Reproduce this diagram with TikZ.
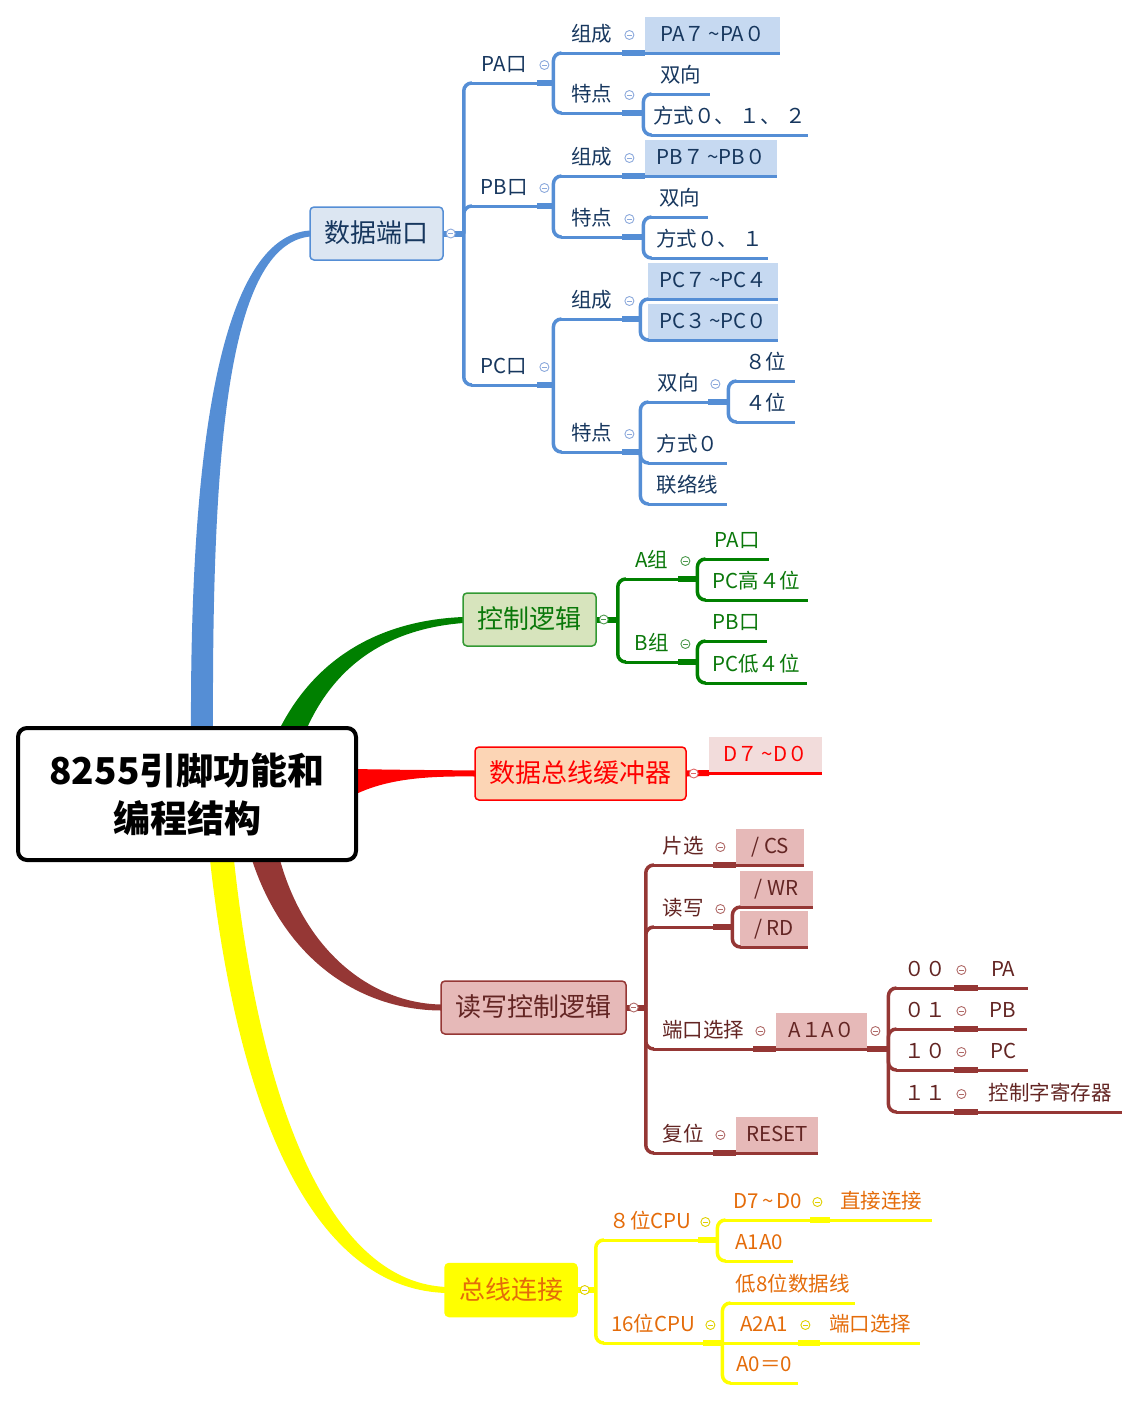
\documentclass[tikz,border=0pt]{standalone}
\usepackage{fontspec}
\setmainfont{Noto Sans CJK SC}
\usetikzlibrary{calc}

% branch colours
\definecolor{bcol}{HTML}{558ED5}
\definecolor{btext}{HTML}{17375E}
\definecolor{bfill}{HTML}{DCE6F2}
\definecolor{bhl}{HTML}{C6D9F1}
\definecolor{bmark}{HTML}{8DAADC}
\definecolor{gcol}{HTML}{008000}
\definecolor{gtext}{HTML}{0A780A}
\definecolor{gfill}{HTML}{D7E4BD}
\definecolor{gmark}{HTML}{4E9A4E}
\definecolor{rcol}{HTML}{FF0000}
\definecolor{rfill}{HTML}{FCD5B5}
\definecolor{rhl}{HTML}{F2DCDB}
\definecolor{rmark}{HTML}{E06666}
\definecolor{wcol}{HTML}{953735}
\definecolor{wtext}{HTML}{632523}
\definecolor{wfill}{HTML}{E6B9B8}
\definecolor{wmark}{HTML}{B06A68}
\definecolor{ycol}{HTML}{FFFF00}
\definecolor{ytext}{HTML}{E46C0A}
\definecolor{ymark}{HTML}{E0D000}

% small collapse marker
\newcommand{\foldmark}[2]{%
  \draw[#2, line width=0.9, fill=white] #1 circle (4.5);
  \draw[#2, line width=0.9] #1 ++(-2.4,0) -- ++(4.8,0);
}
\newcommand{\tl}{\textasciitilde}

\tikzset{
  topic/.style={anchor=south west, minimum width=#1, minimum height=36, inner sep=0pt,
    font=\fontsize{20.5}{24}\selectfont, text height=17, text depth=3},
  hlbox/.style 2 args={topic=#1, fill=#2},
  mainbox/.style 2 args={draw=#1, fill=#2, line width=1.5, rounded corners=4,
    minimum height=53, inner sep=0pt, font=\fontsize{26}{30}\selectfont,
    text height=22, text depth=4},
  uline/.style={line width=3, draw=#1},
  spine/.style={line width=3.5, draw=#1, rounded corners=8},
  stub/.style={line width=6, draw=#1},
}

\begin{document}
\begin{tikzpicture}[x=1pt, y=-1pt]
    \useasboundingbox (0,0) rectangle (1139,1401);

    % ==========================================
    % MAIN BRANCHES (tapered)
    % ==========================================
    \fill[bcol] (191,728) .. controls (190,450) and (220,236) .. (310,230.5)
        -- (310,236.5) .. controls (228,245) and (212,450) .. (213,728) -- cycle;
    \fill[gcol] (280,728) .. controls (320,650) and (390,620) .. (463,617)
        -- (463,623) .. controls (400,628) and (340,655) .. (307,728) -- cycle;
    \fill[rcol] (356,769) .. controls (400,770) and (440,770) .. (475,770.5)
        -- (475,776.5) .. controls (430,776) and (390,778) .. (356,794) -- cycle;
    \fill[wcol] (252,860) .. controls (285,960) and (360,1010) .. (441,1010.5)
        -- (441,1004.5) .. controls (370,1003) and (305,950) .. (280,860) -- cycle;
    \fill[ycol] (210,860) .. controls (240,1130) and (320,1290) .. (447,1293)
        -- (447,1287) .. controls (335,1283) and (262,1120) .. (234,860) -- cycle;

    % root
    \node[draw, line width=4, rounded corners=9, fill=white, minimum width=338,
        minimum height=132, align=center, font=\fontsize{37}{48}\selectfont\bfseries]
        (root) at (187,794) {8255引脚功能和\\编程结构};

    % ==========================================
    % 数据端口
    % ==========================================
    \begin{scope}[every node/.append style={text=btext}]
        \node[mainbox={bcol}{bfill}, minimum width=133] (dport) at (376.5,233.5) {数据端口};
        \node[topic=66] (pa) at (471,83) {PA口};
        \node[topic=66] (pb) at (471,206) {PB口};
        \node[topic=66] (pc) at (471,385) {PC口};
        % PA口
        \node[topic=61] (paz) at (561,53) {组成};
        \node[hlbox={135}{bhl}] (pa70) at (645,53) {PA７\,\tl PA０};
        \node[topic=61] (pat) at (561,113) {特点};
        \node[topic=59] (pas) at (651,94) {双向};
        \node[topic=157] (pam) at (651,135) {方式０、 １、 ２};
        % PB口
        \node[topic=61] (pbz) at (561,176) {组成};
        \node[hlbox={132}{bhl}] (pb70) at (645,176) {PB７\,\tl PB０};
        \node[topic=61] (pbt) at (561,237) {特点};
        \node[topic=57] (pbs) at (651,217) {双向};
        \node[topic=117] (pbm) at (651,258) {方式０、 １};
        % PC口
        \node[topic=61] (pcz) at (561,319) {组成};
        \node[hlbox={130}{bhl}] (pc74) at (648,299) {PC７\,\tl PC４};
        \node[hlbox={130}{bhl}] (pc30) at (648,340) {PC３\,\tl PC０};
        \node[topic=61] (pct) at (561,452) {特点};
        \node[topic=60] (pcs) at (648,402) {双向};
        \node[topic=79] (pcm) at (648,463) {方式０};
        \node[topic=79] (pcl) at (648,504) {联络线};
        \node[topic=59] (pc8) at (736,381) {８位};
        \node[topic=59] (pc4) at (736,422) {４位};

        \coordinate (dS) at ($(dport.east)+(20,0)$);
        \coordinate (paS) at ($(pa.south east)+(16,0)$);
        \coordinate (patS) at ($(pat.south east)+(21,0)$);
        \coordinate (pbS) at ($(pb.south east)+(16,0)$);
        \coordinate (pbtS) at ($(pbt.south east)+(21,0)$);
        \coordinate (pcS) at ($(pc.south east)+(16,0)$);
        \coordinate (pczS) at ($(pcz.south east)+(18,0)$);
        \coordinate (pctS) at ($(pct.south east)+(18,0)$);
        \coordinate (pcsS) at ($(pcs.south east)+(20,0)$);

        \draw[stub=bcol] (dport.east) -- (dS);
        \draw[spine=bcol] (pa.south west) -| (dS) |- (pc.south west);
        \draw[spine=bcol] (dS) |- (pb.south west);
        \draw[stub=bcol] (pa.south east) -- (paS);
        \draw[spine=bcol] (paz.south west) -| (paS) |- (pat.south west);
        \draw[stub=bcol] (paz.south east) -- (pa70.south west);
        \draw[stub=bcol] (pat.south east) -- (patS);
        \draw[spine=bcol] (pas.south west) -| (patS) |- (pam.south west);
        \draw[stub=bcol] (pb.south east) -- (pbS);
        \draw[spine=bcol] (pbz.south west) -| (pbS) |- (pbt.south west);
        \draw[stub=bcol] (pbz.south east) -- (pb70.south west);
        \draw[stub=bcol] (pbt.south east) -- (pbtS);
        \draw[spine=bcol] (pbs.south west) -| (pbtS) |- (pbm.south west);
        \draw[stub=bcol] (pc.south east) -- (pcS);
        \draw[spine=bcol] (pcz.south west) -| (pcS) |- (pct.south west);
        \draw[stub=bcol] (pcz.south east) -- (pczS);
        \draw[spine=bcol] (pc74.south west) -| (pczS) |- (pc30.south west);
        \draw[stub=bcol] (pct.south east) -- (pctS);
        \draw[spine=bcol] (pcs.south west) -| (pctS) |- (pcl.south west);
        \draw[spine=bcol] (pctS) |- (pcm.south west);
        \draw[stub=bcol] (pcs.south east) -- (pcsS);
        \draw[spine=bcol] (pc8.south west) -| (pcsS) |- (pc4.south west);

        \foreach \n in {pa,pb,pc,paz,pat,pas,pam,pbz,pbt,pbs,pbm,pcz,pct,pcs,pcm,pcl,pc8,pc4,pa70,pb70,pc74,pc30}
            \draw[uline=bcol] (\n.south west) -- (\n.south east);
        \foreach \n in {pa,pb,pc,paz,pat,pbz,pbt,pcz,pct,pcs}
            {\foldmark{([shift={(7,-18)}]\n.south east)}{bmark}}
        \foldmark{([xshift=7]dport.east)}{bmark}
    \end{scope}

    % ==========================================
    % 控制逻辑
    % ==========================================
    \begin{scope}[every node/.append style={text=gtext}]
        \node[mainbox={gcol!80!white}{gfill}, minimum width=133] (ctrl) at (529.5,619.5) {控制逻辑};
        \node[topic=53] (ga) at (625,579) {A组};
        \node[topic=53] (gb) at (625,662) {B组};
        \node[topic=64] (gapa) at (705,559) {PA口};
        \node[topic=103] (gapc) at (705,600) {PC高４位};
        \node[topic=62] (gbpb) at (705,641) {PB口};
        \node[topic=102] (gbpc) at (705,683) {PC低４位};

        \coordinate (cS) at ($(ctrl.east)+(21,0)$);
        \coordinate (gaS) at ($(ga.south east)+(19,0)$);
        \coordinate (gbS) at ($(gb.south east)+(19,0)$);

        \draw[stub=gcol] (ctrl.east) -- (cS);
        \draw[spine=gcol] (ga.south west) -| (cS) |- (gb.south west);
        \draw[stub=gcol] (ga.south east) -- (gaS);
        \draw[spine=gcol] (gapa.south west) -| (gaS) |- (gapc.south west);
        \draw[stub=gcol] (gb.south east) -- (gbS);
        \draw[spine=gcol] (gbpb.south west) -| (gbS) |- (gbpc.south west);

        \foreach \n in {ga,gb,gapa,gapc,gbpb,gbpc}
            \draw[uline=gcol] (\n.south west) -- (\n.south east);
        \foreach \n in {ga,gb}
            {\foldmark{([shift={(7,-18)}]\n.south east)}{gmark}}
        \foldmark{([xshift=7]ctrl.east)}{gmark}
    \end{scope}

    % ==========================================
    % 数据总线缓冲器
    % ==========================================
    \begin{scope}[every node/.append style={text=rcol}]
        \node[mainbox={rcol}{rfill}, minimum width=211] (dbuf) at (580.5,773.5) {数据总线缓冲器};
        \node[hlbox={113}{rhl}] (d70) at (709,773) {D７\,\tl D０};
        \draw[stub=rcol] (dbuf.east) -- (d70.south west);
        \draw[uline=rcol] (d70.south west) -- (d70.south east);
        \foldmark{([xshift=7]dbuf.east)}{rmark}
    \end{scope}

    % ==========================================
    % 读写控制逻辑
    % ==========================================
    \begin{scope}[every node/.append style={text=wtext}]
        \node[mainbox={wcol}{wfill}, minimum width=185] (rwctl) at (533.5,1007.5) {读写控制逻辑};
        \node[topic=60] (cs) at (653,865) {片选};
        \node[topic=60] (rw) at (653,927) {读写};
        \node[topic=100] (ps) at (653,1049) {端口选择};
        \node[topic=60] (rst) at (653,1153) {复位};
        \node[hlbox={68}{wfill}] (csb) at (736,865) {/ CS};
        \node[hlbox={73}{wfill}] (wr) at (740,907) {/ WR};
        \node[hlbox={68}{wfill}] (rd) at (740,947) {/ RD};
        \node[hlbox={91}{wfill}] (a1a0) at (776,1049) {A１A０};
        \node[hlbox={82}{wfill}] (rstb) at (736,1153) {RESET};
        \node[topic=58] (n00) at (896,988) {００};
        \node[topic=58] (n01) at (896,1029) {０１};
        \node[topic=58] (n10) at (896,1070) {１０};
        \node[topic=58] (n11) at (896,1112) {１１};
        \node[topic=50] (tpa) at (978,988) {PA};
        \node[topic=49] (tpb) at (978,1029) {PB};
        \node[topic=50] (tpc) at (978,1070) {PC};
        \node[topic=144] (tcw) at (978,1112) {控制字寄存器};

        \coordinate (rS) at ($(rwctl.east)+(19,0)$);
        \coordinate (rwS) at ($(rw.south east)+(19,0)$);
        \coordinate (aS) at ($(a1a0.south east)+(21,0)$);

        \draw[stub=wcol] (rwctl.east) -- (rS);
        \draw[spine=wcol] (cs.south west) -| (rS) |- (rst.south west);
        \draw[spine=wcol] (rS) |- (rw.south west);
        \draw[spine=wcol] (rS) |- (ps.south west);
        \draw[stub=wcol] (cs.south east) -- (csb.south west);
        \draw[stub=wcol] (rw.south east) -- (rwS);
        \draw[spine=wcol] (wr.south west) -| (rwS) |- (rd.south west);
        \draw[stub=wcol] (ps.south east) -- (a1a0.south west);
        \draw[stub=wcol] (rst.south east) -- (rstb.south west);
        \draw[stub=wcol] (a1a0.south east) -- (aS);
        \draw[spine=wcol] (n00.south west) -| (aS) |- (n11.south west);
        \draw[spine=wcol] (aS) |- (n01.south west);
        \draw[spine=wcol] (aS) |- (n10.south west);
        \draw[stub=wcol] (n00.south east) -- (tpa.south west);
        \draw[stub=wcol] (n01.south east) -- (tpb.south west);
        \draw[stub=wcol] (n10.south east) -- (tpc.south west);
        \draw[stub=wcol] (n11.south east) -- (tcw.south west);

        \foreach \n in {cs,rw,ps,rst,csb,wr,rd,a1a0,rstb,n00,n01,n10,n11,tpa,tpb,tpc,tcw}
            \draw[uline=wcol] (\n.south west) -- (\n.south east);
        \foreach \n in {cs,rw,ps,rst,n00,n01,n10,n11}
            {\foldmark{([shift={(7,-18)}]\n.south east)}{wmark}}
        \foldmark{([shift={(8,-18)}]a1a0.south east)}{wmark}
        \foldmark{([xshift=7]rwctl.east)}{wmark}
    \end{scope}

    % ==========================================
    % 总线连接
    % ==========================================
    \begin{scope}[every node/.append style={text=ytext}]
        \node[mainbox={ycol}{ycol}, minimum width=132] (bus) at (511,1290) {总线连接};
        \node[topic=95] (c8) at (603,1240) {８位CPU};
        \node[topic=100] (c16) at (603,1343) {16位CPU};
        \node[topic=85] (d70y) at (725,1220) {D7\,\tl\,D0};
        \node[topic=68] (a1y) at (725,1261) {A1A0};
        \node[topic=102] (direct) at (830,1220) {直接连接};
        \node[topic=125] (lo8) at (730,1303) {低8位数据线};
        \node[topic=68] (a2a1) at (730,1343) {A2A1};
        \node[topic=68] (a00) at (730,1383) {A0＝0};
        \node[topic=100] (psel) at (820,1343) {端口选择};

        \coordinate (yS) at ($(bus.east)+(18,0)$);
        \coordinate (c8S) at ($(c8.south east)+(19,0)$);
        \coordinate (c16S) at ($(c16.south east)+(19,0)$);

        \draw[stub=ycol] (bus.east) -- (yS);
        \draw[spine=ycol] (c8.south west) -| (yS) |- (c16.south west);
        \draw[stub=ycol] (c8.south east) -- (c8S);
        \draw[spine=ycol] (d70y.south west) -| (c8S) |- (a1y.south west);
        \draw[stub=ycol] (d70y.south east) -- (direct.south west);
        \draw[stub=ycol] (c16.south east) -- (c16S);
        \draw[spine=ycol] (lo8.south west) -| (c16S) |- (a00.south west);
        \draw[uline=ycol] (c16S) -- (a2a1.south west);
        \draw[stub=ycol] (a2a1.south east) -- (psel.south west);

        \foreach \n in {c8,c16,d70y,a1y,direct,lo8,a2a1,a00,psel}
            \draw[uline=ycol] (\n.south west) -- (\n.south east);
        \foreach \n in {c8,c16,d70y,a2a1}
            {\foldmark{([shift={(7,-18)}]\n.south east)}{ymark}}
        \foldmark{([xshift=7]bus.east)}{ymark}
    \end{scope}

\end{tikzpicture}
\end{document}
